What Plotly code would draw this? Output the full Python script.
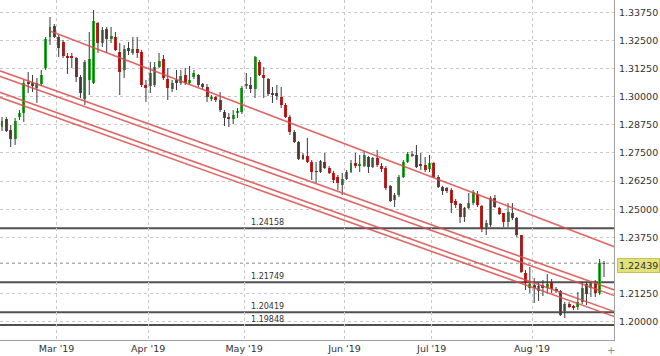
import pandas as pd
import plotly.graph_objects as go

# ---- data ----
dates = pd.bdate_range("2019-02-12", periods=139) + pd.Timedelta(hours=12)

opens = [
    1.28653, 1.29008, 1.28519, 1.28119, 1.29097, 1.29275, 1.30653, 1.30608, 1.30386, 1.30564,
    1.31275, 1.32653, 1.33141, 1.32653, 1.32430, 1.31786, 1.31808, 1.31719, 1.30875, 1.29897,
    1.30741, 1.30608, 1.33275, 1.32386, 1.33008, 1.32564, 1.32653, 1.31986, 1.31186, 1.32164,
    1.31941, 1.32119, 1.31986, 1.30519, 1.30475, 1.30519, 1.31319, 1.31675, 1.30786, 1.30341,
    1.30741, 1.30608, 1.30964, 1.30608, 1.30875, 1.30964, 1.30564, 1.30430, 1.29897, 1.29964,
    1.29853, 1.29319, 1.29097, 1.29008, 1.29275, 1.29319, 1.30475, 1.30519, 1.30341, 1.31541,
    1.30964, 1.30786, 1.30164, 1.30164, 1.29986, 1.29630, 1.29097, 1.28430, 1.27986, 1.27408,
    1.27364, 1.27097, 1.26697, 1.26653, 1.27097, 1.26830, 1.26608, 1.26430, 1.26075, 1.26341,
    1.26653, 1.27053, 1.26919, 1.26919, 1.27319, 1.26875, 1.27275, 1.26919, 1.26830, 1.26030,
    1.25408, 1.25630, 1.26430, 1.27097, 1.27364, 1.27408, 1.27008, 1.26964, 1.26786, 1.27053,
    1.26430, 1.25986, 1.25941, 1.25853, 1.25364, 1.25230, 1.24653, 1.25053, 1.25275, 1.25675,
    1.25141, 1.24208, 1.24297, 1.25497, 1.25053, 1.24830, 1.24430, 1.24830, 1.24608, 1.23853,
    1.22164, 1.21497, 1.21630, 1.21364, 1.21630, 1.21497, 1.21719, 1.21453, 1.21364, 1.20475,
    1.20786, 1.20675, 1.20653, 1.20875, 1.21675, 1.21497, 1.21719, 1.21275, 1.22608,
]
closes = [
    1.28919, 1.28475, 1.28119, 1.28919, 1.29275, 1.30608, 1.30564, 1.30475, 1.30608, 1.30964,
    1.32564, 1.33097, 1.32653, 1.32164, 1.31808, 1.31742, 1.31719, 1.30875, 1.30164, 1.31541,
    1.31675, 1.33364, 1.32386, 1.32964, 1.32564, 1.32697, 1.32075, 1.31097, 1.32119, 1.32030,
    1.32119, 1.31941, 1.30519, 1.30386, 1.31053, 1.31319, 1.31586, 1.30830, 1.30386, 1.30608,
    1.30608, 1.30919, 1.30608, 1.30741, 1.31053, 1.30519, 1.30430, 1.29986, 1.29986, 1.29853,
    1.29408, 1.29053, 1.29008, 1.29186, 1.29364, 1.30386, 1.30564, 1.30341, 1.31764, 1.30964,
    1.30830, 1.30119, 1.30075, 1.30030, 1.29630, 1.29097, 1.28430, 1.27986, 1.27230, 1.27230,
    1.27097, 1.26653, 1.26653, 1.27141, 1.26830, 1.26608, 1.26297, 1.26164, 1.26341, 1.26653,
    1.27053, 1.26919, 1.27008, 1.27408, 1.26875, 1.27275, 1.26964, 1.26786, 1.25941, 1.25364,
    1.25630, 1.26430, 1.27097, 1.27453, 1.27453, 1.26875, 1.26919, 1.26741, 1.27053, 1.26430,
    1.25986, 1.25808, 1.25808, 1.25275, 1.25186, 1.24653, 1.25053, 1.25275, 1.25764, 1.25186,
    1.24119, 1.24386, 1.25497, 1.25097, 1.24786, 1.24430, 1.24875, 1.24608, 1.23853, 1.22208,
    1.21719, 1.21675, 1.21497, 1.21586, 1.21497, 1.21675, 1.21453, 1.21364, 1.20297, 1.20786,
    1.20653, 1.20608, 1.20875, 1.21497, 1.21230, 1.21719, 1.21275, 1.22608, 1.22564,
]
highs = [
    1.29097, 1.29097, 1.28741, 1.29053, 1.29408, 1.30741, 1.31097, 1.30964, 1.30830, 1.31186,
    1.32653, 1.33541, 1.33230, 1.32741, 1.32519, 1.31941, 1.31941, 1.31764, 1.30964, 1.31630,
    1.32875, 1.33853, 1.33319, 1.33097, 1.33097, 1.33097, 1.32875, 1.32386, 1.32297, 1.32430,
    1.32653, 1.32653, 1.32075, 1.30741, 1.31541, 1.31541, 1.31941, 1.31853, 1.31275, 1.30741,
    1.31186, 1.31186, 1.31275, 1.31364, 1.31186, 1.31008, 1.30608, 1.30564, 1.30075, 1.30030,
    1.30208, 1.29408, 1.29275, 1.29408, 1.29497, 1.30475, 1.31053, 1.30875, 1.31808, 1.31630,
    1.31319, 1.30830, 1.30430, 1.30519, 1.30430, 1.29719, 1.29186, 1.28519, 1.28030, 1.27497,
    1.28164, 1.27186, 1.27097, 1.27186, 1.27497, 1.26919, 1.26697, 1.26519, 1.26608, 1.26741,
    1.27186, 1.27497, 1.27408, 1.27586, 1.27364, 1.27319, 1.27630, 1.27053, 1.26919, 1.26075,
    1.25719, 1.26519, 1.27186, 1.27541, 1.27586, 1.27853, 1.27497, 1.27319, 1.27408, 1.27097,
    1.26519, 1.26030, 1.25986, 1.25941, 1.25453, 1.25275, 1.25097, 1.25719, 1.25853, 1.25808,
    1.25186, 1.24519, 1.25586, 1.25630, 1.25097, 1.24830, 1.25275, 1.25275, 1.24653, 1.23853,
    1.22297, 1.22430, 1.21941, 1.21719, 1.21853, 1.22119, 1.21897, 1.21541, 1.21408, 1.20875,
    1.20875, 1.20741, 1.21319, 1.21764, 1.21764, 1.21808, 1.21853, 1.22786, 1.22697,
]
lows = [
    1.28475, 1.28430, 1.27764, 1.27853, 1.28964, 1.28875, 1.30164, 1.30208, 1.29719, 1.30475,
    1.31186, 1.32297, 1.32608, 1.31764, 1.31719, 1.31008, 1.31275, 1.30653, 1.29941, 1.29630,
    1.30075, 1.30564, 1.31941, 1.32208, 1.31941, 1.32386, 1.32030, 1.30075, 1.30830, 1.31853,
    1.31853, 1.31719, 1.30430, 1.29764, 1.30164, 1.30430, 1.31275, 1.30741, 1.29853, 1.30208,
    1.30297, 1.30519, 1.30519, 1.30519, 1.30786, 1.30430, 1.30341, 1.29764, 1.29808, 1.29764,
    1.29319, 1.28697, 1.28653, 1.28786, 1.29053, 1.29230, 1.30341, 1.30164, 1.29941, 1.30919,
    1.29941, 1.30030, 1.29719, 1.29853, 1.29497, 1.29053, 1.28297, 1.27941, 1.27186, 1.27186,
    1.27053, 1.26297, 1.26164, 1.26608, 1.26786, 1.26564, 1.26164, 1.25853, 1.25630, 1.26297,
    1.26608, 1.26830, 1.26653, 1.26875, 1.26608, 1.26830, 1.26875, 1.26653, 1.25853, 1.25319,
    1.25097, 1.25541, 1.26386, 1.27053, 1.27319, 1.26830, 1.26741, 1.26653, 1.26653, 1.26386,
    1.25941, 1.25630, 1.25719, 1.24830, 1.25053, 1.24386, 1.24430, 1.25008, 1.25186, 1.25097,
    1.23986, 1.23853, 1.24208, 1.25053, 1.24741, 1.24208, 1.24208, 1.24519, 1.23764, 1.22164,
    1.21408, 1.21275, 1.20830, 1.20919, 1.21141, 1.21275, 1.21275, 1.21275, 1.20253, 1.20164,
    1.20608, 1.20519, 1.20519, 1.20786, 1.20741, 1.21097, 1.21097, 1.21186, 1.21986,
]

month_ticks = ["2019-03-01", "2019-04-01", "2019-05-01", "2019-06-03", "2019-07-01", "2019-08-01"]
month_labels = ["Mar '19", "Apr '19", "May '19", "Jun '19", "Jul '19", "Aug '19"]

price_ticks = [1.2, 1.2125, 1.2375, 1.25, 1.2625, 1.275, 1.2875, 1.3, 1.3125, 1.325, 1.3375]
price_tick_labels = ["1.20000", "1.21250", "1.23750", "1.25000", "1.26250", "1.27500",
                     "1.28750", "1.30000", "1.31250", "1.32500", "1.33750"]

levels = [1.24158, 1.21749, 1.20419, 1.19848]
level_labels = ["1.24158", "1.21749", "1.20419", "1.19848"]

last_line = 1.22600
last_price = 1.22439
last_label = "1.22439"

# trend lines: ([start date, end date], [start price, end price])
trend_upper = (["2019-02-27 12:00", "2019-08-28 12:00"], [1.32914, 1.23288])
trend_channel = [
    (["2019-02-08 12:00", "2019-08-28 12:00"], [1.31394, 1.21363]),
    (["2019-02-08 12:00", "2019-08-28 12:00"], [1.31146, 1.21114]),
    (["2019-02-08 12:00", "2019-08-28 12:00"], [1.30434, 1.20403]),
    (["2019-02-08 12:00", "2019-08-28 12:00"], [1.30212, 1.20181]),
]

y_range = [1.19186, 1.34297]
x_range = ["2019-02-12 01:00", "2019-08-27 19:00"]

# ---- figure ----
GREEN = "#2fb52f"
RED = "#cc1f1f"
FONT = "DejaVu Sans"

fig = go.Figure()

# wicks
wx, wy = [], []
for d, h, l in zip(dates, highs, lows):
    wx += [d, d, None]
    wy += [h, l, None]
fig.add_trace(go.Scatter(x=wx, y=wy, mode="lines",
                         line=dict(color="#3a3a3a", width=1),
                         hoverinfo="skip", showlegend=False))

# bodies
body_len = [c - o for o, c in zip(opens, closes)]
body_col = [GREEN if c >= o else RED for o, c in zip(opens, closes)]
fig.add_trace(go.Bar(x=dates, y=body_len, base=opens,
                     marker=dict(color=body_col, line=dict(width=0)),
                     width=0.68 * 86400000, showlegend=False))

# trend lines
tl_style = dict(color="rgba(220,75,75,0.85)", width=1.6)
fig.add_trace(go.Scatter(x=trend_upper[0], y=trend_upper[1], mode="lines",
                         line=tl_style, showlegend=False, hoverinfo="skip"))
for xs, ys in trend_channel:
    fig.add_trace(go.Scatter(x=xs, y=ys, mode="lines",
                             line=tl_style, showlegend=False, hoverinfo="skip"))

# horizontal levels
for lv, lab in zip(levels, level_labels):
    fig.add_shape(type="line", xref="paper", x0=0, x1=1, yref="y", y0=lv, y1=lv,
                  line=dict(color="#505050", width=2), layer="below")
    fig.add_annotation(xref="paper", x=267 / 614, yref="y", y=lv, text=lab,
                       showarrow=False, yanchor="bottom", yshift=-1,
                       font=dict(family=FONT, size=8, color="#333"))

# last price dashed line + label
fig.add_shape(type="line", xref="paper", x0=0, x1=1, yref="y", y0=last_line, y1=last_line,
              line=dict(color="#8a8a8a", width=1, dash="3px,3px"), layer="below")
fig.add_annotation(xref="paper", x=1, xanchor="left", xshift=3, yref="y", y=last_price,
                   yshift=1, text=last_label, showarrow=False,
                   bgcolor="#e2e27a", bordercolor="#c4c44e", borderwidth=1, borderpad=1,
                   font=dict(family=FONT, size=9.5, color="#333"))

fig.add_annotation(xref="paper", x=1, xanchor="center", xshift=-3, yref="paper", y=0,
                   yanchor="top", yshift=-3, text="+", showarrow=False,
                   font=dict(family=FONT, size=10, color="#888"))

fig.update_layout(
    width=660, height=356,
    margin=dict(l=0, r=46, t=0, b=16),
    paper_bgcolor="white", plot_bgcolor="white",
    bargap=0, showlegend=False,
    font=dict(family=FONT, size=9.5, color="#333"),
)
fig.update_xaxes(
    type="date", range=x_range,
    rangebreaks=[dict(bounds=["sat", "mon"])],
    tickvals=month_ticks, ticktext=month_labels,
    showgrid=True, gridcolor="#c8c8c8", griddash="dot", gridwidth=1,
    showline=True, linecolor="#a0a0a0", linewidth=1,
    ticks="", zeroline=False,
    tickfont=dict(family=FONT, size=9.5, color="#333"),
    rangeslider=dict(visible=False),
)
fig.update_yaxes(
    side="right", range=y_range,
    tickvals=price_ticks, ticktext=price_tick_labels,
    showgrid=True, gridcolor="#c8c8c8", griddash="dot", gridwidth=1,
    showline=True, linecolor="#a0a0a0", linewidth=1,
    ticks="", ticklabelstandoff=2, zeroline=False,
    tickfont=dict(family=FONT, size=9.5, color="#333"),
)

fig.write_html("out.html", config={"displayModeBar": False},
               post_script="document.body.style.margin='0';")
